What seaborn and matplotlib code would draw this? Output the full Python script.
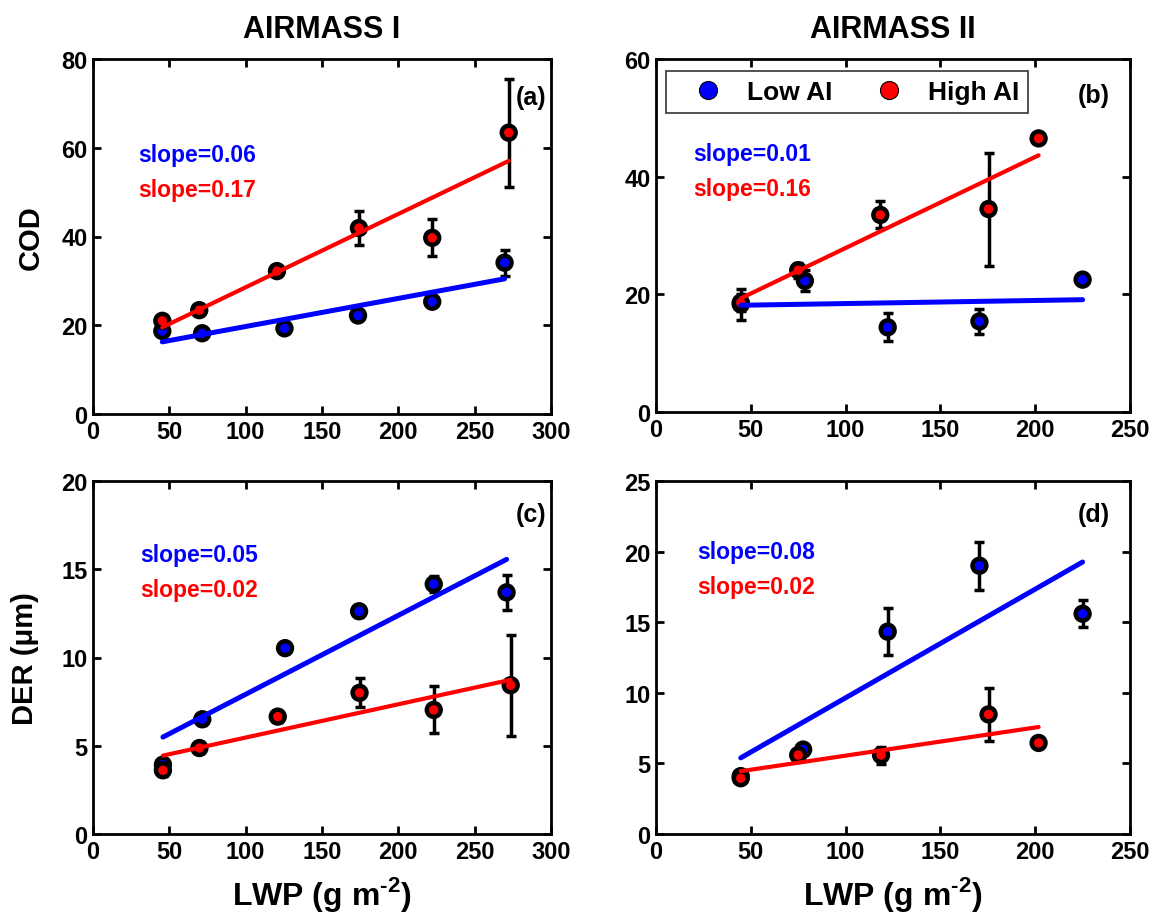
"""
LWP vs COD / DER scatter with error bars and linear fits, two airmasses.
"""

import numpy as np
import pandas as pd
import matplotlib
matplotlib.use("Agg")
import matplotlib.pyplot as plt
from matplotlib.lines import Line2D
import seaborn as sns

# ───────── data ─────────
A_LOW_X = [45.4, 71.5, 125.4, 173.6, 222.2, 269.6]
A_LOW_Y = [18.7, 18.2, 19.3, 22.2, 25.3, 34.1]
A_LOW_E = [1.0, 0.8, 0.8, 1.0, 0.8, 2.9]
A_HIGH_X = [45.4, 69.6, 120.5, 174.2, 222.2, 272.3]
A_HIGH_Y = [21.0, 23.4, 32.2, 41.9, 39.7, 63.4]
A_HIGH_E = [1.2, 1.0, 1.0, 3.9, 4.2, 12.2]

B_LOW_X = [44.7, 78.5, 122.2, 170.6, 225.0]
B_LOW_Y = [18.3, 22.3, 14.4, 15.4, 22.5]
B_LOW_E = [2.6, 1.8, 2.4, 2.1, 0.5]
B_HIGH_X = [44.7, 75.0, 118.3, 175.4, 201.8]
B_HIGH_Y = [18.6, 24.1, 33.5, 34.5, 46.5]
B_HIGH_E = [1.5, 1.3, 2.3, 9.6, 0.5]

C_LOW_X = [45.8, 71.6, 125.8, 174.3, 223.2, 270.9]
C_LOW_Y = [3.93, 6.5, 10.53, 12.62, 14.16, 13.69]
C_LOW_E = [0.3, 0.3, 0.3, 0.3, 0.45, 1.0]
C_HIGH_X = [45.8, 69.7, 121.0, 174.6, 223.2, 273.6]
C_HIGH_Y = [3.61, 4.87, 6.65, 8.0, 7.03, 8.43]
C_HIGH_E = [0.3, 0.3, 0.3, 0.82, 1.33, 2.85]

D_LOW_X = [44.7, 77.6, 122.2, 170.6, 225.0]
D_LOW_Y = [4.1, 5.98, 14.33, 19.0, 15.6]
D_LOW_E = [0.3, 0.4, 1.65, 1.7, 0.95]
D_HIGH_X = [44.7, 75.0, 118.7, 175.4, 201.8]
D_HIGH_Y = [3.95, 5.59, 5.59, 8.47, 6.45]
D_HIGH_E = [0.3, 0.3, 0.6, 1.9, 0.3]

SLOPE_LOW = ["slope=0.06", "slope=0.01", "slope=0.05", "slope=0.08"]
SLOPE_HIGH = ["slope=0.17", "slope=0.16", "slope=0.02", "slope=0.02"]
PANEL_TAGS = ["(a)", "(b)", "(c)", "(d)"]
TITLES = ["AIRMASS I", "AIRMASS II"]
GROUPS = ["Low AI", "High AI"]
PALETTE = {"Low AI": "#0000FF", "High AI": "#FF0000"}


def make_frame(lx, ly, le, hx, hy, he):
    low = pd.DataFrame({"lwp": lx, "val": ly, "err": le, "group": "Low AI"})
    high = pd.DataFrame({"lwp": hx, "val": hy, "err": he, "group": "High AI"})
    return pd.concat([low, high], ignore_index=True)


FRAMES = [
    make_frame(A_LOW_X, A_LOW_Y, A_LOW_E, A_HIGH_X, A_HIGH_Y, A_HIGH_E),
    make_frame(B_LOW_X, B_LOW_Y, B_LOW_E, B_HIGH_X, B_HIGH_Y, B_HIGH_E),
    make_frame(C_LOW_X, C_LOW_Y, C_LOW_E, C_HIGH_X, C_HIGH_Y, C_HIGH_E),
    make_frame(D_LOW_X, D_LOW_Y, D_LOW_E, D_HIGH_X, D_HIGH_Y, D_HIGH_E),
]

sns.set_style("ticks")
plt.rcParams["font.family"] = ["Liberation Sans", "DejaVu Sans"]
plt.rcParams["font.weight"] = "bold"
plt.rcParams["axes.linewidth"] = 2.0
for key in ["text.color", "axes.labelcolor", "xtick.color", "ytick.color", "axes.edgecolor"]:
    plt.rcParams[key] = "black"
plt.rcParams["mathtext.fontset"] = "custom"
plt.rcParams["mathtext.rm"] = "Liberation Sans:bold"
plt.rcParams["mathtext.bf"] = "Liberation Sans:bold"

fig = plt.figure(figsize=(11.56, 9.2), dpi=100)
W, H = 1156, 920
# axes boxes in pixels: left, top, right, bottom
BOXES = [(93, 60, 551, 415), (656, 60, 1130, 413),
         (93, 482, 551, 835), (656, 482, 1130, 835)]
axes = []
for l, t, r, b in BOXES:
    axes.append(fig.add_axes([l / W, 1 - b / H, (r - l) / W, (b - t) / H]))

XLIMS = [300, 250, 300, 250]
YLIMS = [80, 60, 20, 25]
YSTEPS = [20, 20, 5, 5]
SLOPE_POS = [(0.098, 0.73, 0.632), (0.078, 0.731, 0.632),
             (0.103, 0.793, 0.694), (0.086, 0.799, 0.70)]
TAG_POS = [(0.99, 0.893), (0.958, 0.898), (0.99, 0.906), (0.958, 0.906)]

for i, (ax, df) in enumerate(zip(axes, FRAMES)):
    # error bars (behind markers)
    ax.errorbar(df["lwp"], df["val"], yerr=df["err"], fmt="none",
                ecolor="black", elinewidth=2.5, capsize=3.5, capthick=2.5, zorder=2)
    sns.scatterplot(data=df, x="lwp", y="val", hue="group", palette=PALETTE,
                    s=100, edgecolor="black", linewidth=3.2, legend=False,
                    zorder=3, ax=ax)
    for g, lw in zip(GROUPS, [3.6, 3.0]):
        sub = df[df["group"] == g]
        sns.regplot(data=sub, x="lwp", y="val", scatter=False, ci=None,
                    truncate=True, color=PALETTE[g],
                    line_kws={"linewidth": lw, "zorder": 4}, ax=ax)

    ax.set_xlim(0, XLIMS[i])
    ax.set_ylim(0, YLIMS[i])
    ax.set_xticks(np.arange(0, XLIMS[i] + 1, 50))
    ax.set_yticks(np.arange(0, YLIMS[i] + 1, YSTEPS[i]))
    ax.tick_params(direction="in", top=True, right=True, length=6, width=2,
                   labelsize=17, pad=4)
    for lab in ax.get_xticklabels() + ax.get_yticklabels():
        lab.set_fontweight("bold")
    for sp in ax.spines.values():
        sp.set_visible(True)
        sp.set_linewidth(2)
        sp.set_color("black")
    ax.set_xlabel("")
    ax.set_ylabel("")

    sx, sy1, sy2 = SLOPE_POS[i]
    ax.text(sx, sy1, SLOPE_LOW[i], transform=ax.transAxes, color=PALETTE["Low AI"],
            fontsize=16.5, fontweight="bold", va="center", ha="left")
    ax.text(sx, sy2, SLOPE_HIGH[i], transform=ax.transAxes, color=PALETTE["High AI"],
            fontsize=16.5, fontweight="bold", va="center", ha="left")
    tx, ty = TAG_POS[i]
    ax.text(tx, ty, PANEL_TAGS[i], transform=ax.transAxes, fontsize=18,
            fontweight="bold", va="center", ha="right")

axes[0].set_title(TITLES[0], fontsize=22, fontweight="bold", pad=16)
axes[1].set_title(TITLES[1], fontsize=22, fontweight="bold", pad=16)
axes[0].set_ylabel("COD", fontsize=21, fontweight="bold", labelpad=12)
axes[2].set_ylabel("DER (\u03bcm)", fontsize=21, fontweight="bold", labelpad=16)
for ax in axes[2:]:
    ax.set_xlabel("LWP (g m$^{\u2010 2}$)", fontsize=23, fontweight="bold", labelpad=8)

handles = [Line2D([], [], marker="o", linestyle="none", markersize=13,
                  markerfacecolor=PALETTE[g], markeredgecolor="black",
                  markeredgewidth=0.8) for g in GROUPS]
leg = axes[1].legend(handles, GROUPS, ncol=2, loc="upper left",
                     bbox_to_anchor=(0.021, 0.966), borderaxespad=0,
                     frameon=True, fancybox=False, edgecolor="black",
                     prop={"size": 19, "weight": "bold"}, handlelength=2.5,
                     handletextpad=0.22, columnspacing=0.9, borderpad=0.35)
leg.get_frame().set_linewidth(1.2)

fig.savefig("out.png", dpi=100)
plt.close(fig)
